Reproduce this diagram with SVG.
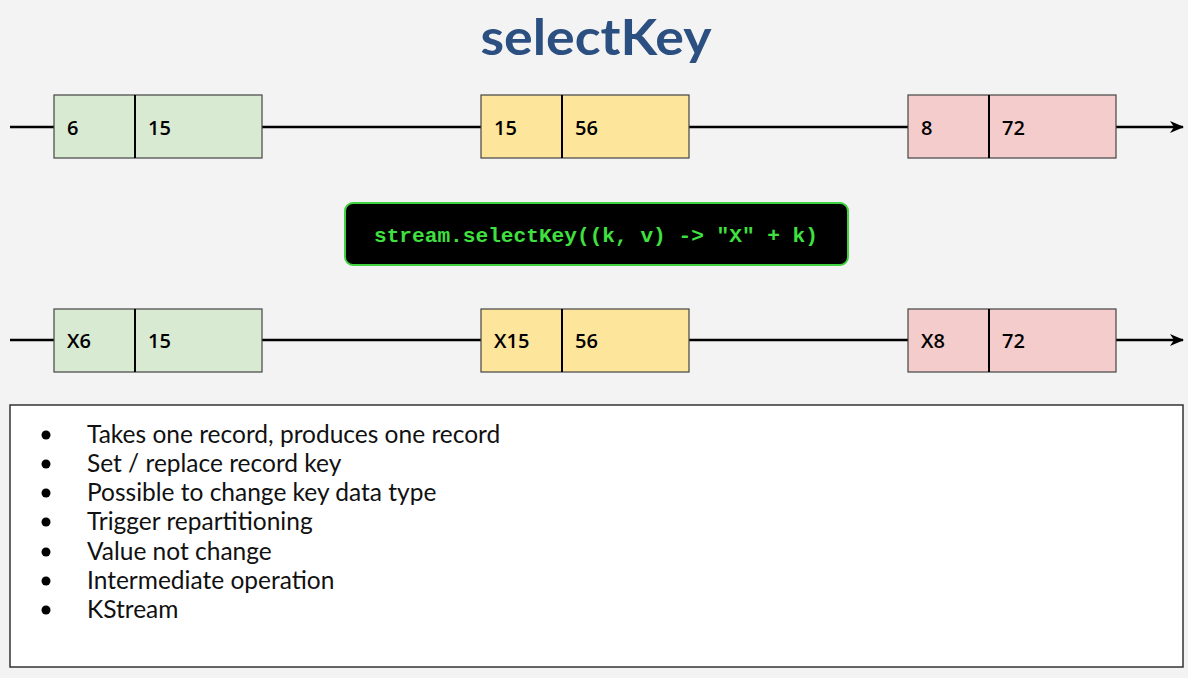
<svg xmlns="http://www.w3.org/2000/svg" width="1188" height="678" viewBox="0 0 1188 678">
<defs>
<marker id="arr" markerWidth="14" markerHeight="12" refX="13" refY="6" orient="auto" markerUnits="userSpaceOnUse">
<path d="M0,0 L14,6 L0,12 L4,6 Z" fill="#000"/>
</marker>
<style>
.ln{stroke:#000;stroke-width:2.5;fill:none}
.box{stroke:#444;stroke-width:1.2}
.div{stroke:#000;stroke-width:2}
.g{fill:#d9ead3}.y{fill:#fde59c}.r{fill:#f4cccc}
.t{font-family:"Open Sans","Liberation Sans",sans-serif;font-size:20px;font-weight:600;fill:#000}
.b{font-family:Lato,"Liberation Sans",sans-serif;font-size:24.5px;fill:#111}
</style>
</defs>
<rect width="1188" height="678" fill="#f3f3f3"/>
<text x="596" y="55" text-anchor="middle" font-family="Lato,'Liberation Sans',sans-serif" font-weight="bold" font-size="50" fill="#2b4f80" textLength="231" lengthAdjust="spacingAndGlyphs">selectKey</text>
<g id="connectors">
<line class="ln" x1="10" y1="127" x2="1183" y2="127" marker-end="url(#arr)"/>
<line class="ln" x1="10" y1="340" x2="1183" y2="340" marker-end="url(#arr)"/>
</g>
<g id="r1a"><rect class="box g" x="54" y="95" width="208" height="63"/><line class="div" x1="135" y1="95" x2="135" y2="158"/><text class="t" x="67" y="135">6</text><text class="t" x="148" y="135">15</text></g>
<g id="r1b"><rect class="box y" x="481" y="95" width="208" height="63"/><line class="div" x1="562" y1="95" x2="562" y2="158"/><text class="t" x="494" y="135">15</text><text class="t" x="575" y="135">56</text></g>
<g id="r1c"><rect class="box r" x="908" y="95" width="208" height="63"/><line class="div" x1="989" y1="95" x2="989" y2="158"/><text class="t" x="921" y="135">8</text><text class="t" x="1002" y="135">72</text></g>
<g id="code"><rect x="345" y="203" width="503" height="62" rx="8" fill="#000" stroke="#3fd43f" stroke-width="2"/><text x="596" y="242" text-anchor="middle" font-family="'Liberation Mono',monospace" font-weight="bold" font-size="21" fill="#3fe03f" textLength="444" lengthAdjust="spacingAndGlyphs" xml:space="preserve">stream.selectKey((k, v) -&gt; "X" + k)</text></g>
<g id="r2a"><rect class="box g" x="54" y="309" width="208" height="63"/><line class="div" x1="135" y1="309" x2="135" y2="372"/><text class="t" x="67" y="348">X6</text><text class="t" x="148" y="348">15</text></g>
<g id="r2b"><rect class="box y" x="481" y="309" width="208" height="63"/><line class="div" x1="562" y1="309" x2="562" y2="372"/><text class="t" x="494" y="348">X15</text><text class="t" x="575" y="348">56</text></g>
<g id="r2c"><rect class="box r" x="908" y="309" width="208" height="63"/><line class="div" x1="989" y1="309" x2="989" y2="372"/><text class="t" x="921" y="348">X8</text><text class="t" x="1002" y="348">72</text></g>
<g id="notes">
<rect x="10" y="405" width="1173" height="262" fill="#fff" stroke="#333" stroke-width="1.5"/>
<g fill="#000"><circle cx="46" cy="435" r="4.5"/><circle cx="46" cy="464" r="4.5"/><circle cx="46" cy="493" r="4.5"/><circle cx="46" cy="522" r="4.5"/><circle cx="46" cy="552" r="4.5"/><circle cx="46" cy="581" r="4.5"/><circle cx="46" cy="610" r="4.5"/></g>
<text class="b" x="87" y="443">Takes one record, produces one record</text>
<text class="b" x="87" y="472">Set / replace record key</text>
<text class="b" x="87" y="501">Possible to change key data type</text>
<text class="b" x="87" y="530">Trigger repartitioning</text>
<text class="b" x="87" y="560">Value not change</text>
<text class="b" x="87" y="589">Intermediate operation</text>
<text class="b" x="87" y="618">KStream</text>
</g>
</svg>
